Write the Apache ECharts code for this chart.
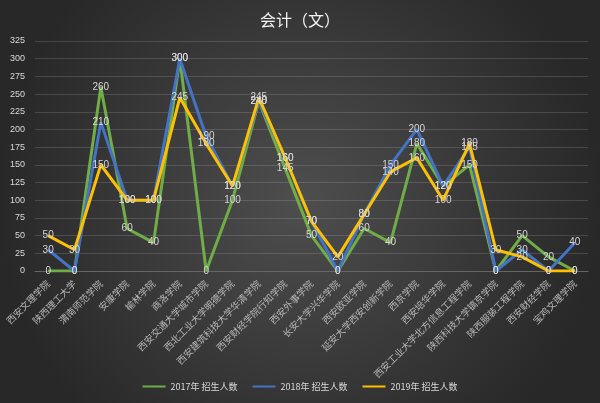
<!DOCTYPE html>
<html>
<head>
<meta charset="utf-8">
<script src="https://cdn.jsdelivr.net/npm/echarts@6/dist/echarts.min.js"></script>
<style>html,body{margin:0;padding:0;background:#333;}#c{width:600px;height:403px;}</style>
</head>
<body>
<div id="c"></div>
<script>
const categories = ['西安文理学院','陕西理工大学','渭南师范学院','安康学院','榆林学院','商洛学院','西安交通大学城市学院','西北工业大学明德学院','西安建筑科技大学华清学院','西安财经学院行知学院','西安外事学院','长安大学兴华学院','西安欧亚学院','延安大学西安创新学院','西京学院','西安培华学院','西安工业大学北方信息工程学院','陕西科技大学镐京学院','陕西服装工程学院','西安财经学院','宝鸡文理学院'];
const s2017 = [0,0,260,60,40,300,0,100,240,145,50,0,60,40,180,120,150,0,50,20,0];
const s2018 = [30,0,210,100,100,300,190,120,240,160,70,0,80,150,200,120,175,0,30,0,40];
const s2019 = [50,30,150,100,100,245,180,120,245,160,70,20,80,140,160,100,180,30,20,0,0];
const names = ['2017年 招生人数','2018年 招生人数','2019年 招生人数'];
const colors = ['#70ad47','#4472c4','#ffc000'];

const chart = echarts.init(document.getElementById('c'));
function mk(name, data, color) {
  return {
    name: name, type: 'line', data: data,
    symbol: 'circle', symbolSize: 1, showSymbol: true,
    lineStyle: {width: 3, color: color},
    itemStyle: {color: color},
    label: {show: true, position: 'inside', color: '#d6d6d6', fontSize: 10, fontFamily: 'Liberation Sans, Arial, sans-serif'},
    emphasis: {disabled: true},
    animation: false
  };
}
chart.setOption({
  backgroundColor: {
    type: 'radial', x: 0.5, y: 0.5, r: 0.75,
    colorStops: [{offset: 0, color: '#4e4e4e'}, {offset: 1, color: '#282828'}]
  },
  title: {
    text: '会计（文）', left: 'center', top: 7,
    textStyle: {color: '#f2f2f2', fontSize: 16, fontWeight: 'normal', fontFamily: 'Noto Sans CJK SC, sans-serif'}
  },
  legend: {
    data: names, bottom: 7, left: 'center', icon: 'rect', itemWidth: 23, itemHeight: 2, itemGap: 15,
    textStyle: {color: '#d9d9d9', fontSize: 9, fontFamily: 'Noto Sans CJK SC, sans-serif'}
  },
  grid: {left: 35, right: 12, top: 41, bottom: 132, containLabel: false},
  xAxis: {
    type: 'category', data: categories, boundaryGap: true,
    axisLine: {lineStyle: {color: '#666'}},
    axisTick: {show: false},
    axisLabel: {rotate: 45, interval: 0, color: '#b8b8b8', fontSize: 9.5, margin: 11, fontFamily: 'Noto Sans CJK SC, sans-serif'}
  },
  yAxis: {
    type: 'value', min: 0, max: 325, interval: 25,
    axisLine: {show: false}, axisTick: {show: false},
    axisLabel: {color: '#d9d9d9', fontSize: 9, margin: 10},
    splitLine: {lineStyle: {color: 'rgba(255,255,255,0.14)', width: 1}}
  },
  series: [mk(names[0], s2017, colors[0]), mk(names[1], s2018, colors[1]), mk(names[2], s2019, colors[2])]
});
</script>
</body>
</html>
